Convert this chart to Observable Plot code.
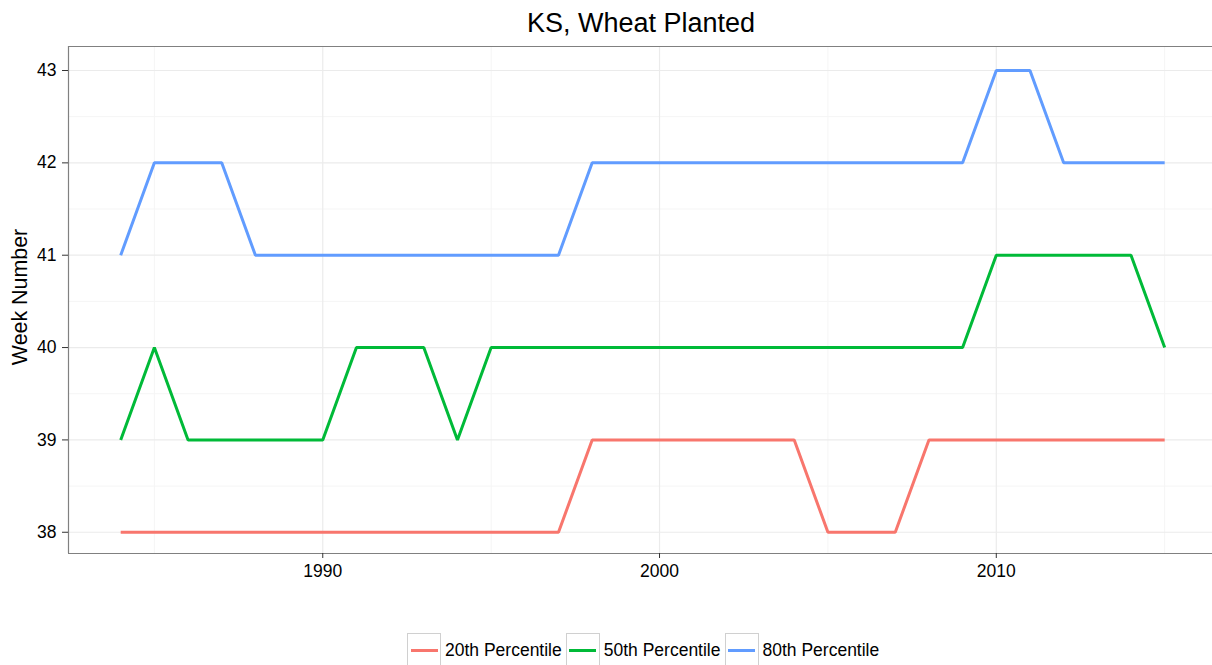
<!DOCTYPE html>
<html>
<head>
<meta charset="utf-8">
<script src="https://cdn.jsdelivr.net/npm/d3@7"></script>
<script src="https://cdn.jsdelivr.net/npm/@observablehq/plot@0.6"></script>
<style>
  html, body { margin: 0; padding: 0; background: #fff; overflow: hidden; width: 1212px; height: 665px; }
  body { font-family: Arial, "Liberation Sans", sans-serif; }
  #title { box-sizing: border-box; height: 36px; padding-top: 5px; line-height: 36px; text-align: center; font-size: 27px; color: #000; padding-left: 70px; width: 1212px; white-space: nowrap; }
  #chart { height: 580px; width: 1212px; }
  #chart svg { display: block; max-width: none; }
  #legend { display: flex; justify-content: flex-start; padding-left: 407px; margin-top: 17px; font-size: 17.5px; color: #000; }
  .key { display: flex; align-items: center; margin-right: 4px; }
  .box { box-sizing: border-box; width: 34px; height: 34px; border: 1.5px solid #d0d0d0; display: flex; align-items: center; justify-content: center; margin-right: 4px; }
  .box span { display: block; width: 27px; height: 3px; }
</style>
</head>
<body>
<div id="title">KS, Wheat Planted</div>
<div id="chart"></div>
<div id="legend"></div>
<script>
const years = d3.range(1984, 2016);
const p20 = [38,38,38,38,38,38,38,38,38,38,38,38,38,38,39,39,39,39,39,39,39,38,38,38,39,39,39,39,39,39,39,39];
const p50 = [39,40,39,39,39,39,39,40,40,40,39,40,40,40,40,40,40,40,40,40,40,40,40,40,40,40,41,41,41,41,41,40];
const p80 = [41,42,42,42,41,41,41,41,41,41,41,41,41,41,42,42,42,42,42,42,42,42,42,42,42,42,43,43,42,42,42,42];
const seriesNames = ["20th Percentile", "50th Percentile", "80th Percentile"];
const seriesColors = ["#F8766D", "#00BA38", "#619CFF"];
const xMajor = [1990, 2000, 2010];
const xMinor = [1985, 1995, 2005, 2015];
const yMajor = [38, 39, 40, 41, 42, 43];
const yMinor = [38.5, 39.5, 40.5, 41.5, 42.5];
const xDomain = [1982.45, 2016.42];
const yDomain = [37.77, 43.26];

const data = [];
[p20, p50, p80].forEach((arr, i) => arr.forEach((v, j) => data.push({year: years[j], value: v, series: seriesNames[i]})));

const plot = Plot.plot({
  width: 1212,
  height: 580,
  marginLeft: 68,
  marginRight: 0,
  marginTop: 10,
  marginBottom: 63,
  style: { fontFamily: "Arial, 'Liberation Sans', sans-serif", background: "#fff", overflow: "visible" },
  x: { domain: xDomain },
  y: { domain: yDomain },
  color: { domain: seriesNames, range: seriesColors },
  marks: [
    Plot.ruleX(xMinor, { stroke: "#f5f5f5", strokeWidth: 1 }),
    Plot.ruleY(yMinor, { stroke: "#f5f5f5", strokeWidth: 1 }),
    Plot.ruleX(xMajor, { stroke: "#ebebeb", strokeWidth: 1.2 }),
    Plot.ruleY(yMajor, { stroke: "#ebebeb", strokeWidth: 1.2 }),
    Plot.line(data, { x: "year", y: "value", z: "series", stroke: "series", strokeWidth: 3, strokeLinejoin: "miter", strokeLinecap: "butt" }),
    // panel border: top, bottom, left (right edge lies outside the window)
    Plot.ruleY([yDomain[0], yDomain[1]], { stroke: "#808080", strokeWidth: 1.2 }),
    Plot.ruleX([xDomain[0]], { stroke: "#808080", strokeWidth: 1.2 }),
    Plot.axisX({ ticks: xMajor, tickFormat: d => String(d), tickSize: 5, tickPadding: 6, fontSize: 17.5, color: "#000", stroke: "#333", label: null }),
    Plot.axisY({ ticks: yMajor, tickFormat: d => String(d), tickSize: 6, tickPadding: 6, fontSize: 17.5, color: "#000", stroke: "#333", label: null }),
    Plot.text(["Week Number"], { frameAnchor: "left", textAnchor: "middle", dx: -48, dy: -3, rotate: -90, fontSize: 21.4, fill: "#000" })
  ]
});
document.getElementById("chart").appendChild(plot);

const legend = document.getElementById("legend");
seriesNames.forEach((name, i) => {
  const k = document.createElement("div");
  k.className = "key";
  k.innerHTML = `<div class="box"><span style="background:${seriesColors[i]}"></span></div><div>${name}</div>`;
  legend.appendChild(k);
});
</script>
</body>
</html>
